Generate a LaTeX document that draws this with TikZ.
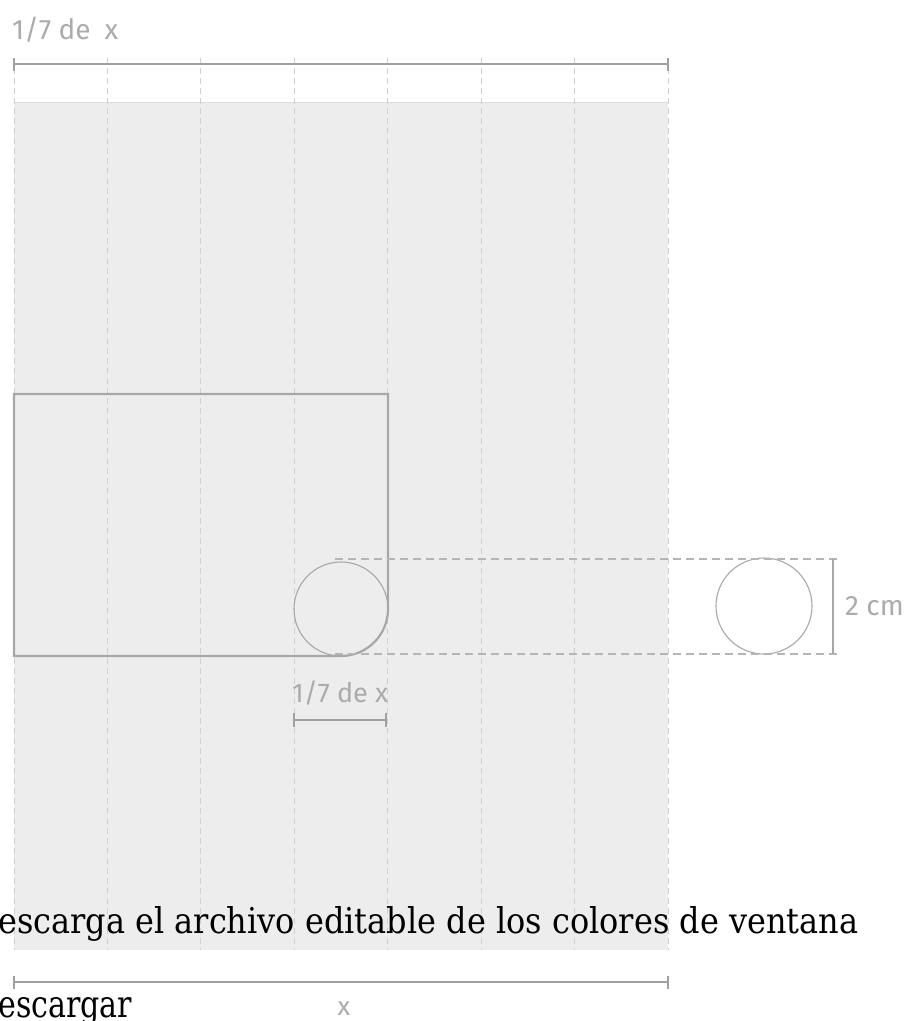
\documentclass[tikz,border=0pt]{standalone}
\usepackage{fontspec}
\usepackage{graphicx}
\newfontfamily\labelfont{Fira Sans}
\newfontfamily\seriffont{DejaVu Serif}
\definecolor{panelgray}{HTML}{ECEDEC}
\definecolor{gridgray}{HTML}{D0D0D0}
\definecolor{linegray}{HTML}{A8A8A8}
\definecolor{dimgray}{HTML}{A0A0A0}
\definecolor{textgray}{HTML}{ABABAB}
\begin{document}
\begin{tikzpicture}[x=1pt,y=-1pt,
  gridline/.style={draw=gridgray,line width=0.9pt,dash pattern=on 6pt off 4pt},
  outline/.style={draw=linegray,line width=2.2pt},
  ring/.style={circle,draw=linegray,line width=1.1pt,inner sep=0pt},
  guide/.style={draw=linegray!85,line width=1.1pt,dash pattern=on 8pt off 5pt},
  dimline/.style={draw=dimgray,line width=1.8pt},
  lbl/.style={inner sep=0pt,text=textgray,font=\labelfont\fontsize{28}{32}\selectfont},
  serif/.style={inner sep=0pt,text=black}]
\useasboundingbox (0,0) rectangle (907,1021);
% panel
\fill[panelgray] (14,102) rectangle (668,950);
\draw[gridgray!70,line width=0.8pt] (14,102) -- (668,102);
% grid lines
\foreach \i in {0,...,7} {
  \coordinate (gt\i) at ({14+\i*654/7},58);
  \coordinate (gb\i) at ({14+\i*654/7},950);
  \draw[gridline] (gt\i) -- (gb\i);
}
% window outline with rounded bottom-right corner
\coordinate (r1) at (14,394);
\coordinate (r2) at (388,394);
\coordinate (r3) at (388,609);
\coordinate (r4) at (14,656);
\draw[outline] (r1) -- (r2) -- (r3) arc[start angle=0,end angle=90,radius=47] -- (r4) -- cycle;
% circles
\node[ring,minimum size=94pt] (c1) at (341,609) {};
\node[ring,minimum size=96pt] (c2) at (764,606) {};
% guides
\coordinate (ga) at (335,559);
\coordinate (gA) at (838,559);
\coordinate (gc) at (335,654);
\coordinate (gC) at (838,654);
\draw[guide] (ga) -- (gA);
\draw[guide] (gc) -- (gC);
% 2 cm bar
\coordinate (v1) at (833,559);
\coordinate (v2) at (833,654);
\draw[draw=linegray,line width=1.5pt] (v1) -- (v2);
\node[lbl,anchor=base west] (twocm) at (845,615) {2 cm};
% top dimension
\node[lbl,anchor=base west] (toplbl) at (12,39) {1/7 de\hspace{14pt}x};
\coordinate (t1) at (14,64); \coordinate (t2) at (668,64);
\draw[dimline] (t1) -- (t2);
\draw[dimline] (14,58) -- (14,71);
\draw[dimline] (668,58) -- (668,71);
% small dimension
\node[lbl,anchor=base west,font=\labelfont\fontsize{27}{31}\selectfont] (midlbl) at (292,702) {1/7 de x};
\coordinate (m1) at (294,720); \coordinate (m2) at (386,720);
\draw[dimline] (m1) -- (m2);
\draw[dimline] (294,713) -- (294,727);
\draw[dimline] (386,713) -- (386,727);
% bottom dimension
\coordinate (b1) at (14,982); \coordinate (b2) at (668,982);
\draw[dimline] (b1) -- (b2);
\draw[dimline] (14,976) -- (14,989);
\draw[dimline] (668,976) -- (668,989);
\node[lbl,anchor=base,font=\labelfont\fontsize{26}{30}\selectfont] (xlbl) at (344,1015) {x};
% texts
\node[serif,anchor=base west] (desc) at (-2,933) {\resizebox{860pt}{27pt}{\seriffont escarga el archivo editable de los colores de ventana}};
\node[serif,anchor=base west] (dl) at (-2,1017) {\resizebox{134pt}{20pt}{\seriffont escargar}};
\end{tikzpicture}
\end{document}
